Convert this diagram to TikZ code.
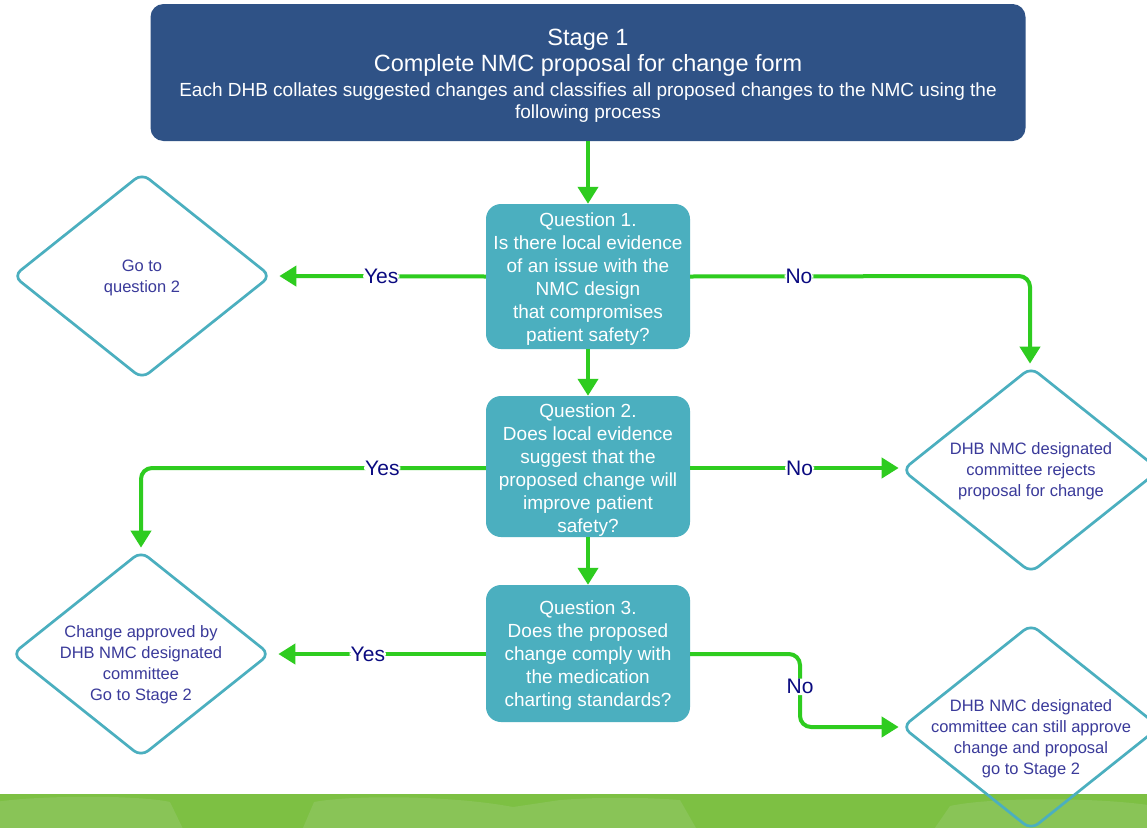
\documentclass[tikz,border=0pt]{standalone}
\usepackage{fontspec}
\setmainfont{Liberation Sans}
\usepackage{tikz}
\usetikzlibrary{shapes.geometric, arrows.meta, positioning}

\definecolor{stageblue}{HTML}{2F5286}
\definecolor{qteal}{HTML}{4BAFBF}
\definecolor{flowgreen}{HTML}{2ECC1F}
\definecolor{txtblue}{HTML}{3A3A9A}
\definecolor{labblue}{HTML}{0A0A80}
\definecolor{bandgreen}{HTML}{7DC043}
\definecolor{bandlight}{HTML}{89C457}

\newcommand{\lowerby}[1]{\rule{0pt}{#1}}

\tikzset{
	stagebox/.style={rectangle, rounded corners=13pt, fill=stageblue, text=white, minimum width=875pt, minimum height=137pt, align=center, inner sep=0pt, font=\fontsize{23.5}{26}\selectfont},
	qbox/.style={rectangle, rounded corners=15pt, fill=qteal, text=white, minimum width=204pt, align=center, inner sep=0pt, font=\fontsize{19}{23}\selectfont},
	choice/.style={diamond, draw=qteal, line width=2.7pt, rounded corners=9pt, minimum width=258pt, minimum height=206pt, inner xsep=-40pt, inner ysep=-30pt, text=txtblue, align=center, font=\fontsize{16.5}{21}\selectfont},
	flow/.style={draw=flowgreen, line width=4pt, rounded corners=11pt, -{Triangle[length=17pt,width=20pt]}},
	ans/.style={fill=white, text=labblue, inner sep=1pt, font=\fontsize{21}{22}\selectfont}
}

\begin{document}
\begin{tikzpicture}[x=1pt, y=-1pt]
	\clip (0,0) rectangle (1147,827);
	\fill [white] (0,0) rectangle (1147,827);
	
	% green band at the bottom
	\fill [bandgreen] (-5,794) rectangle (1155,835);
	\begin{scope}
		\clip (-5,794) rectangle (1155,835);
		\fill [bandlight] (-5,835) -- (-5,802) .. controls (40,795) and (140,795) .. (170,802) -- (186,835) -- cycle;
		\fill [bandlight] (300,835) -- (314,802) .. controls (350,795) and (450,795) .. (513,807) -- (560,800) .. controls (600,797) and (640,797) .. (680,800) -- (700,835) -- cycle;
		\fill [bandlight] (930,835) -- (950,806) .. controls (990,797) and (1100,797) .. (1155,806) -- (1155,835) -- cycle;
	\end{scope}
	
	% stage and questions
	\node [stagebox] (stage) at (588,72.5) {\lowerby{23pt}Stage 1\\Complete NMC proposal for change form\\[-1pt]\fontsize{19}{22}\selectfont Each DHB collates suggested changes and classifies all proposed changes to the NMC using the\\[-4pt]\fontsize{19}{22}\selectfont following process};
	\node [qbox, minimum height=145pt] (q1) at (588,276.5) {\lowerby{19pt}Question 1.\\Is there local evidence\\of an issue with the\\NMC design\\that compromises\\patient safety?};
	\node [qbox, minimum height=141pt] (q2) at (588,466.5) {\lowerby{20pt}Question 2.\\Does local evidence\\suggest that the\\proposed change will\\improve patient\\safety?};
	\node [qbox, minimum height=137pt] (q3) at (588,653.5) {\lowerby{18pt}Question 3.\\Does the proposed\\change comply with\\the medication\\charting standards?};
	
	% outcomes
	\node [choice] (goq2) at (142,276) {\lowerby{16pt}Go to\\question 2};
	\node [choice] (reject) at (1031,470) {\lowerby{15pt}DHB NMC designated\\committee rejects\\proposal for change};
	\node [choice] (approve) at (141,654) {\lowerby{34pt}Change approved by\\DHB NMC designated\\committee\\Go to Stage 2};
	\node [choice] (still) at (1031,727) {\lowerby{36pt}DHB NMC designated\\committee can still approve\\change and proposal\\go to Stage 2};
	
	\coordinate (c1) at (1030,276);
	\coordinate (c2) at (141,468);
	\coordinate (c3) at (800,654);
	\coordinate (c4) at (800,727);
	
	% connectors
	\draw [flow] (stage.south) -- (q1.north);
	\draw [flow] (q1.south) -- (q2.north);
	\draw [flow] (q2.south) -- (q3.north);
	\draw [flow, shorten >=7pt] (q1.west) -- node [ans, pos=0.49] {Yes} (goq2.east);
	\draw [flow, shorten >=2pt] (q1.east) -- node [ans, pos=0.32] {No} (c1) -- (reject.north -| c1);
	\draw [flow, shorten >=2pt] (q2.west |- c2) -- node [ans, pos=0.3] {Yes} (c2) -- (approve.north);
	\draw [flow, shorten >=2pt] (q2.east |- c2) -- node [ans, pos=0.52] {No} (reject.west |- c2);
	\draw [flow, shorten >=7pt] (q3.west |- c3) -- node [ans, pos=0.55] {Yes} (approve.east |- c3);
	\draw [flow, shorten >=2pt] (q3.east |- c3) -- (c3) -- node [ans, pos=0.45] {No} (c4) -- (still.west);
\end{tikzpicture}
\end{document}
